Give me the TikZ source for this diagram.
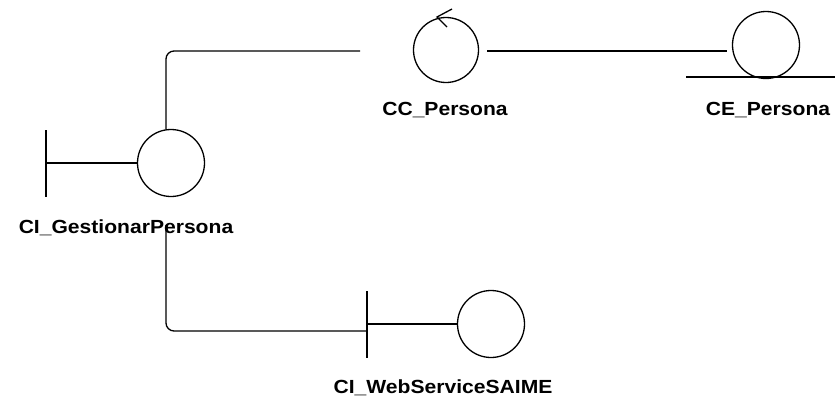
\documentclass[tikz,border=0pt]{standalone}
\usepackage{fontspec}
\usepackage{graphicx}
\setmainfont{Liberation Sans}
\newcommand{\widetxt}[1]{\scalebox{1.11}[1]{#1}}
\begin{document}
\begin{tikzpicture}[x=1pt,y=-1pt,
  obj/.style={circle,draw,line width=1.3pt,inner sep=0pt,minimum size=#1},
  lbl/.style={font=\bfseries\fontsize{19}{19}\selectfont,inner sep=0pt,anchor=base},
  ln/.style={line width=1.3pt},
  conn/.style={line width=1.3pt,rounded corners=8pt}]
\useasboundingbox (0,0) rectangle (835,399);
% objects
\node[obj=65pt] (cc) at (446,50) {};
\node[obj=67pt] (ce) at (766,45) {};
\node[obj=67pt] (gp) at (171,163) {};
\node[obj=67pt] (ws) at (491,324) {};
% labels
\node[lbl] (lcc) at (445,115) {\widetxt{CC\_Persona}};
\node[lbl] (lce) at (768,115) {\widetxt{CE\_Persona}};
\node[lbl] (lgp) at (126,233) {\widetxt{CI\_GestionarPersona}};
\node[lbl] (lws) at (443,393) {\widetxt{CI\_WebServiceSAIME}};
% control arrow
\coordinate (at) at (437,17);
\draw[ln] (452,9) -- (at) -- (447,27);
% entity underline
\coordinate (ul1) at (686,77);
\coordinate (ul2) at (835,77);
\draw[ln] (ul1) -- (ul2);
% boundary of gp
\coordinate (gb1) at (46,130);
\coordinate (gb2) at (46,197);
\coordinate (gbm) at (46,163);
\draw[ln] (gb1) -- (gb2);
\draw[ln] (gbm) -- (gp.west);
% boundary of ws
\coordinate (wb1) at (367,291);
\coordinate (wb2) at (367,358);
\coordinate (wbm) at (367,324);
\draw[ln] (wb1) -- (wb2);
\draw[ln] (wbm) -- (ws.west);
% connectors
\coordinate (c1) at (487,51);
\coordinate (c2) at (727,51);
\draw[ln] (c1) -- (c2);
\coordinate (gtop) at (166,129.5);
\coordinate (gend) at (360,51);
\draw[conn] (gtop) -- (166,51) -- (gend);
\coordinate (gbot) at (166,225);
\coordinate (wend) at (366,331);
\draw[conn] (gbot) -- (166,331) -- (wend);
\end{tikzpicture}
\end{document}
